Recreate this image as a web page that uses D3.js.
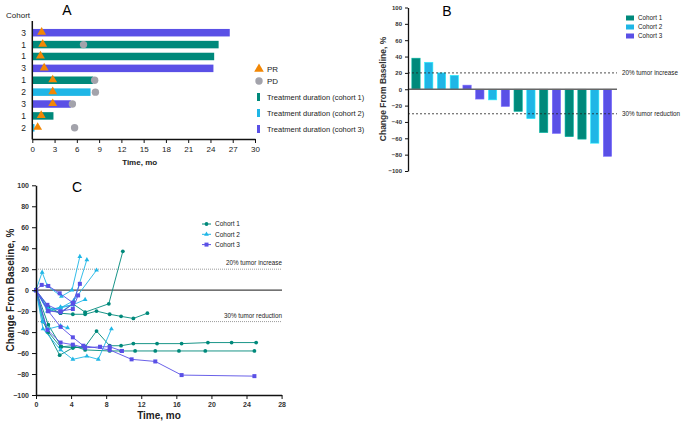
<!DOCTYPE html>
<html><head><meta charset="utf-8">
<script src="https://cdn.jsdelivr.net/npm/d3@7"></script>
<style>body{margin:0;background:#fff}svg{font-family:"Liberation Sans",Arial,sans-serif}</style>
</head><body><svg id="c" width="685" height="432"></svg>
<script>
// ---------- DATA ----------
const colors = {1:"#00897b", 2:"#1fb6e6", 3:"#5a50e6"};
// Panel A (swimmer)
const aCohorts = [3,1,1,3,1,2,3,1,2];
const aDuration = [26.6,25.1,24.5,24.4,8.2,7.85,5.2,2.85,0.3];
const aPR = [1.26,1.4,1.1,1.6,2.75,2.75,2.75,1.2,0.72];
const aPD = [null,6.9,null,null,8.4,8.5,5.4,null,5.7];
const aTicks = [0,3,6,9,12,15,18,21,24,27,30];
// Panel B (waterfall)
const bValues = [38,33,20,17,5,-12,-13,-21,-27,-36,-53,-54,-58,-61,-66,-82];
const bCohorts = [1,2,2,2,3,3,2,3,1,2,1,3,1,1,2,3];
const bTicks = [100,80,60,40,20,0,-20,-40,-60,-80,-100];
// Panel C (spider) – each patient: cohort, months, values
const cCohorts = [1,1,1,1,1, 2,2,2,2,2,2, 3,3,3,3,3];
const cMonths = [
 [0,1.4,2.8,4.2,5.6,6.9,8.4,9.7,11.1,12.7],
 [0,1.3,2.8,4.2,5.6,8.3,9.9],
 [0,0.8,1.4,2.8,4.2,5.6,6.9,8.4,9.7,11.1,13.8,16.6,19.6,22.3,25.1],
 [0,1.4,2.9,4.2,5.6,8.4,9.7,11.3,13.6,16.3,19.3,24.9],
 [0,1.3,2.7,4.2,5.4],
 [0,0.7,1.3,2.9,4.1,5.0],
 [0,1.4,2.8,4.2,5.8],
 [0,1.3,2.8,4.3,6.9],
 [0,1.4,2.8,4.2,5.6],
 [0,0.8,1.4,2.8,3.6],
 [0,0.8,2.8,4.2,5.8,7.1,8.6],
 [0,0.65,1.4,2.7,4.2,5.0],
 [0,1.3,2.8,4.2,4.8],
 [0,1.4,2.8,4.2],
 [0,1.3,2.8,4.2,5.6,7.3,8.4,9.8],
 [0,1.4,2.8,4.2,5.4,8.4,10.9,13.6,16.6,24.9]
];
const cValues = [
 [0,-16,-22,-23,-23,-20,-23,-25,-27,-22],
 [0,-18,-22,-13,-21,-13,37],
 [0,-30,-40,-54,-55,-54,-39,-53,-53,-51,-51,-51,-50,-50,-50],
 [0,-33,-54,-53,-57,-58,-58,-58,-58,-58,-58,-58],
 [0,-40,-62,-55,-54],
 [0,17,4,-6,0,32],
 [0,-18,-17,-14,29],
 [0,-20,-17,-10,19],
 [0,-20,-16,-14,-9],
 [0,-30,-37,-34,-36],
 [0,-37,-57,-66,-63,-66,-37],
 [0,5,4,-3,-12,6],
 [0,-14,-20,-18,-5],
 [0,-20,-21,-13],
 [0,-38,-50,-52,-55,-54,-54,-58],
 [0,-20,-35,-45,-53,-57,-66,-68,-81,-82]
];
const cXTicks = [0,4,8,12,16,20,24,28];
const cYTicks = [100,80,60,40,20,0,-20,-40,-60,-80,-100];

// ---------- DRAW ----------
const svg = d3.select("#c");
const ink = "#222";

// ===== Panel A =====
{
 const g = svg.append("g");
 const x = d3.scaleLinear().domain([0,30]).range([32.3,255]);
 const y = d3.scalePoint().domain(d3.range(aCohorts.length)).range([32.7,127.8]);
 const bh = 7.5;
 g.append("text").attr("x",67).attr("y",15).attr("text-anchor","middle").attr("font-size",14).text("A");
 g.append("text").attr("x",6).attr("y",18).attr("font-size",8).attr("fill",ink).text("Cohort");
 g.selectAll("rect.bar").data(aDuration).join("rect")
  .attr("x",x(0)).attr("y",(d,i)=>y(i)-bh/2).attr("width",d=>x(d)-x(0)).attr("height",bh)
  .attr("fill",(d,i)=>colors[aCohorts[i]]);
 g.selectAll("circle.pd").data(aPD.map((d,i)=>({d,i})).filter(o=>o.d!=null)).join("circle")
  .attr("cx",o=>x(o.d)).attr("cy",o=>y(o.i)).attr("r",3.7).attr("fill","#a3a3ab");
 const tri = d3.symbol().type(d3.symbolTriangle).size(34);
 g.selectAll("path.pr").data(aPR).join("path")
  .attr("d",tri).attr("transform",(d,i)=>`translate(${x(d)},${y(i)-0.5})`).attr("fill","#f28705");
 g.selectAll("text.row").data(aCohorts).join("text")
  .attr("x",26).attr("y",(d,i)=>y(i)+3).attr("text-anchor","end").attr("font-size",8.5).attr("fill",ink).text(d=>d);
 const ax = g.append("g").attr("transform","translate(0,139)")
  .call(d3.axisBottom(x).tickValues(aTicks).tickSize(4).tickSizeOuter(0));
 ax.select(".domain").attr("stroke","#111").attr("stroke-width",1.5);
 ax.selectAll("line").attr("stroke","#111");
 ax.selectAll("text").attr("font-size",8).attr("fill",ink).attr("font-family","Liberation Sans, Arial");
 g.append("line").attr("x1",32.3).attr("x2",32.3).attr("y1",21).attr("y2",139.5).attr("stroke","#111").attr("stroke-width",1.5);
 g.append("text").attr("x",x(15)-4).attr("y",165).attr("text-anchor","middle").attr("font-size",8).attr("font-weight","bold").attr("fill",ink).text("Time, mo");
 // legend
 const lg = g.append("g");
 lg.append("path").attr("d",d3.symbol().type(d3.symbolTriangle).size(40)).attr("transform","translate(259,69)").attr("fill","#f28705");
 lg.append("circle").attr("cx",259).attr("cy",81).attr("r",3.7).attr("fill","#a3a3ab");
 lg.append("text").attr("x",267).attr("y",72).attr("font-size",8).attr("fill",ink).text("PR");
 lg.append("text").attr("x",267).attr("y",84).attr("font-size",8).attr("fill",ink).text("PD");
 [1,2,3].forEach((c,i)=>{
  const yy = 97+i*16;
  lg.append("rect").attr("x",257).attr("y",yy-4).attr("width",3).attr("height",8).attr("fill",colors[c]);
  lg.append("text").attr("x",267).attr("y",yy+3).attr("font-size",7.5).attr("fill",ink).text(`Treatment duration (cohort ${c})`);
 });
}

// ===== Panel B =====
{
 const g = svg.append("g");
 const y = d3.scaleLinear().domain([-100,100]).range([171,7.5]);
 const x = d3.scaleBand().domain(d3.range(bValues.length)).range([409.6,613.9]).paddingInner(0.35).paddingOuter(0.175);
 g.append("text").attr("x",447).attr("y",16).attr("text-anchor","middle").attr("font-size",14).text("B");
 g.selectAll("rect").data(bValues).join("rect")
  .attr("x",(d,i)=>x(i)).attr("width",x.bandwidth())
  .attr("y",d=>y(Math.max(0,d))).attr("height",d=>Math.abs(y(d)-y(0)))
  .attr("fill",(d,i)=>colors[bCohorts[i]]).attr("stroke",(d,i)=>d3.color(colors[bCohorts[i]]).brighter(0.8)).attr("stroke-width",0.6);
 g.append("line").attr("x1",408).attr("x2",617).attr("y1",y(0)).attr("y2",y(0)).attr("stroke","#666").attr("stroke-width",1.5);
 [[20,"20% tumor increase"],[-30,"30% tumor reduction"]].forEach(([v,t])=>{
  g.append("line").attr("x1",408).attr("x2",617).attr("y1",y(v)).attr("y2",y(v)).attr("stroke","#222").attr("stroke-width",0.8).attr("stroke-dasharray","2,2");
  g.append("text").attr("x",622).attr("y",y(v)+2.5).attr("font-size",6.3).attr("fill",ink).text(t);
 });
 const ay = g.append("g").attr("transform","translate(408,0)")
  .call(d3.axisLeft(y).tickValues(bTicks).tickSize(3).tickSizeOuter(0));
 ay.select(".domain").attr("stroke","#111").attr("stroke-width",1.3);
 ay.selectAll("line").attr("stroke","#111");
 ay.selectAll("text").attr("font-size",6).attr("font-weight","bold").attr("fill","#333").attr("font-family","Liberation Sans, Arial");
 g.append("text").attr("transform","translate(386,89) rotate(-90)").attr("text-anchor","middle")
  .attr("font-size",8.5).attr("font-weight","bold").attr("fill","#333").text("Change From Baseline, %");
 [1,2,3].forEach((c,i)=>{
  const yy = 18+i*9;
  g.append("rect").attr("x",626).attr("y",yy-2.5).attr("width",8).attr("height",5).attr("fill",colors[c]);
  g.append("text").attr("x",638).attr("y",yy+2.2).attr("font-size",6.3).attr("fill",ink).text(`Cohort ${c}`);
 });
}

// ===== Panel C =====
{
 const g = svg.append("g");
 const x = d3.scaleLinear().domain([0,28]).range([36,281.6]);
 const y = d3.scaleLinear().domain([-100,100]).range([395,185.3]);
 g.append("text").attr("x",77).attr("y",192).attr("text-anchor","middle").attr("font-size",14).text("C");
 [[20,"20% tumor increase"],[-30,"30% tumor reduction"]].forEach(([v,t])=>{
  g.append("line").attr("x1",36).attr("x2",282).attr("y1",y(v)).attr("y2",y(v)).attr("stroke","#9a9a9a").attr("stroke-width",1).attr("stroke-dasharray","1,1");
  g.append("text").attr("x",282).attr("y",y(v)-4).attr("text-anchor","end").attr("font-size",6.3).attr("fill",ink).text(t);
 });
 g.append("line").attr("x1",36).attr("x2",282).attr("y1",y(0)).attr("y2",y(0)).attr("stroke","#444").attr("stroke-width",1.3);
 const line = d3.line();
 const markers = {
  1: s=>s.append("circle").attr("r",1.9),
  2: s=>s.append("path").attr("d",d3.symbol().type(d3.symbolTriangle).size(10)),
  3: s=>s.append("rect").attr("x",-2).attr("y",-2).attr("width",4).attr("height",4)
 };
 cMonths.forEach((ms,k)=>{
  const c = cCohorts[k], col = colors[c];
  const pts = ms.map((m,j)=>[x(m),y(cValues[k][j])]);
  g.append("path").attr("d",line(pts)).attr("fill","none").attr("stroke",col).attr("stroke-width",1).attr("stroke-opacity",0.9);
  pts.forEach(p=>{
   const s = g.append("g").attr("transform",`translate(${p[0]},${p[1]})`).attr("fill",col);
   markers[c](s);
  });
 });
 const ax = g.append("g").attr("transform","translate(0,395)")
  .call(d3.axisBottom(x).tickValues(cXTicks).tickSize(4).tickSizeOuter(0));
 ax.select(".domain").attr("stroke","#111").attr("stroke-width",1.5);
 ax.selectAll("line").attr("stroke","#111");
 ax.selectAll("text").attr("font-size",7).attr("font-weight","bold").attr("fill","#333").attr("font-family","Liberation Sans, Arial");
 const ay = g.append("g").attr("transform","translate(36,0)")
  .call(d3.axisLeft(y).tickValues(cYTicks).tickSize(4).tickSizeOuter(0));
 ay.select(".domain").attr("stroke","#111").attr("stroke-width",1.5);
 ay.selectAll("line").attr("stroke","#111");
 ay.selectAll("text").attr("font-size",7).attr("font-weight","bold").attr("fill","#333").attr("font-family","Liberation Sans, Arial");
 g.append("text").attr("x",159).attr("y",419).attr("text-anchor","middle").attr("font-size",10).attr("font-weight","bold").attr("fill",ink).text("Time, mo");
 g.append("text").attr("transform","translate(14,290) rotate(-90)").attr("text-anchor","middle")
  .attr("font-size",10).attr("font-weight","bold").attr("fill",ink).text("Change From Baseline, %");
 [1,2,3].forEach((c,i)=>{
  const yy = 224+i*10.3;
  const s = g.append("g").attr("fill",colors[c]);
  s.append("line").attr("x1",202).attr("x2",211).attr("y1",yy).attr("y2",yy).attr("stroke",colors[c]).attr("stroke-width",1);
  const m = s.append("g").attr("transform",`translate(206.5,${yy})`);
  markers[c](m);
  g.append("text").attr("x",215).attr("y",yy+2.3).attr("font-size",6.5).attr("fill",ink).text(`Cohort ${c}`);
 });
}
</script></body></html>
